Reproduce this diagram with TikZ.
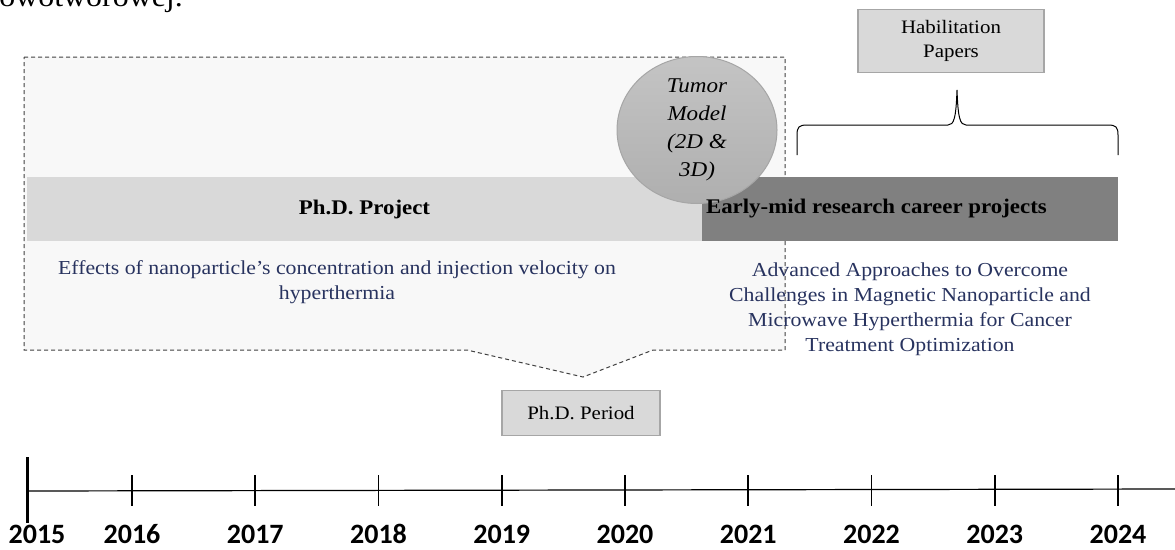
\documentclass[tikz,border=0pt]{standalone}
\usepackage{fontspec}
\setmainfont{Liberation Serif}[FakeStretch=1.1]
\newfontfamily\yearfont{Carlito}
\usetikzlibrary{shapes.geometric,positioning}

\definecolor{barlight}{HTML}{D9D9D9}
\definecolor{bardark}{HTML}{808080}
\definecolor{tagedge}{HTML}{A6A6A6}
\definecolor{blurbblue}{HTML}{28335F}
\definecolor{panelfill}{HTML}{F8F8F8}
\definecolor{panelline}{HTML}{404040}
\definecolor{balltop}{HTML}{C4C4C4}
\definecolor{ballbottom}{HTML}{AFAFAF}

\begin{document}
\begin{tikzpicture}[%
    x=1pt, y=-1pt,              % one unit is one pixel, y runs downwards
    inner sep=0pt,
    ]
% -------------------------------------------------
% Styles for bars, tags and labels
\tikzset{
  base/.style={align=center, inner sep=0pt},
  bar/.style={base, minimum height=64pt},
  head/.style={font=\fontsize{20.8}{25}\selectfont\bfseries},
  tag/.style={base, draw=tagedge, line width=1.5pt, fill=barlight,
    font=\fontsize{19}{24}\selectfont},
  blurb/.style={base, text=blurbblue, font=\fontsize{19.8}{25}\selectfont},
  year/.style={anchor=base, font=\yearfont\bfseries\fontsize{28}{30}\selectfont},
  tick/.style={line width=1.8pt},
  panel/.style={fill=panelfill, draw=panelline, line width=1pt,
    dash pattern=on 4pt off 3pt},
}
\useasboundingbox (0,0) rectangle (1175,549);

% -------------------------------------------------
% Running text of the page
\begin{scope}
\clip (0,0) rectangle (1175,549);
\node[anchor=base east, font=\fontsize{29}{30}\selectfont] (pagetext) at (183,6) {nowotworowej.};
\end{scope}

% Ph.D. period frame with its pointer
\draw[panel] (24,57) -- (785,57) -- (785,350) -- (653,350) -- (583,377)
  -- (467,350) -- (24,350) -- cycle;

% The two project bars
\node[bar, head, fill=barlight, minimum width=675pt] (phdbar) at (364.5,209) {Ph.D. Project};
\node[bar, fill=bardark, minimum width=416pt] (careerbar) at (910,209) {};

% Tumour model bubble
\node[ellipse, minimum width=160pt, minimum height=147pt, draw=tagedge,
  line width=1pt, top color=balltop, bottom color=ballbottom, align=center,
  font=\fontsize{21}{28}\selectfont\itshape] (tumor) at (697,130)
  {Tumor\\Model\\(2D \&\\3D)};

\node[head, anchor=west] (careertitle) at ([xshift=4pt]careerbar.west)
  {Early-mid research career projects};

% Descriptions under the bars
\node[blurb] (phdblurb) at (337,282)
  {Effects of nanoparticle's concentration and injection velocity on\\hyperthermia};
\node[blurb] (careerblurb) at (910,309)
  {Advanced Approaches to Overcome\\Challenges in Magnetic Nanoparticle and\\
   Microwave Hyperthermia for Cancer\\Treatment Optimization};

% Tags
\node[tag, minimum width=186pt, minimum height=63pt] (habil) at (951,41) {Habilitation\\Papers};
\node[tag, minimum width=158pt, minimum height=45pt] (period) at (581,413) {Ph.D. Period};

% Brace under the habilitation tag
\coordinate (tip) at (957,90);
\draw[line width=1pt] (797,155) -- (797,135) .. controls (797,127) and (799,125) .. (807,125)
  -- (948,125) .. controls (954,125) and (956,118) .. (tip)
  .. controls (958,118) and (960,125) .. (966,125) -- (1108,125)
  .. controls (1116,125) and (1118,127) .. (1118,135) -- (1118,155);

% -------------------------------------------------
% Time axis
\coordinate (axisstart) at (27,491);
\coordinate (axisend) at (1175,489);
\draw[line width=1.2pt] (axisstart) -- (axisend);
\draw[line width=3pt] (27,457) -- (27,523);
\node[year] (y2015) at (37,543) {2015};
\foreach \yr [count=\i from 0] in {2016,...,2024}{
  \draw[tick] ({132+\i*123.25},475) -- ({132+\i*123.25},506);
  \node[year] (y\yr) at ({132+\i*123.25},543) {\yr};
}
\end{tikzpicture}
\end{document}
